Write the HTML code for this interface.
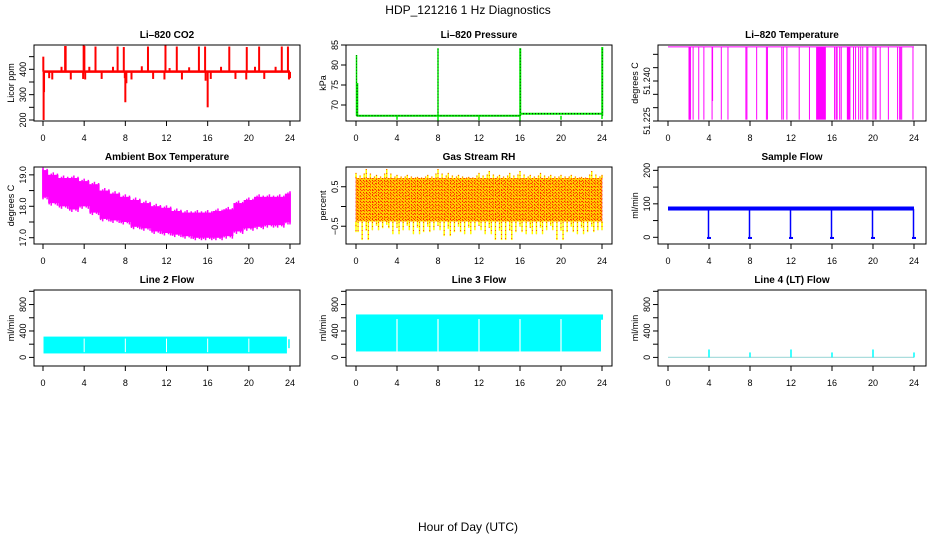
<!DOCTYPE html>
<html><head><meta charset="utf-8"><style>
html,body{margin:0;padding:0;background:#fff;}
svg{display:block;font-family:"Liberation Sans",sans-serif;}
</style></head><body>
<svg id="chart" width="936" height="540" viewBox="0 0 936 540" xmlns="http://www.w3.org/2000/svg">
<defs>
<pattern id="rhpat" width="3" height="3" patternUnits="userSpaceOnUse"><rect width="3" height="3" fill="#ffcc00"/><rect width="1" height="1" fill="#ff2000"/><rect x="1" y="1" width="1" height="1" fill="#ff6000"/></pattern>
</defs>
<text x="468" y="14" font-size="12" text-anchor="middle">HDP_121216  1 Hz Diagnostics</text>
<text x="468" y="531" font-size="12" text-anchor="middle">Hour of Day (UTC)</text>
</svg>
<script>
// ---------- data ----------
const hourTicks = [0,4,8,12,16,20,24];
// CO2
const co2BandHours = [0.05, 24];
const co2BandLo = [386, 386];
const co2BandHi = [396, 396];
const co2SpikeHours = [0.03,2.15,2.2,3.95,4.02,5.1,7.25,7.85,10.2,11.9,13.0,15.15,15.75,18.1,19.8,21.0,23.2,23.8,1.8,4.5,6.8,9.6,12.3,14.2,17.3,20.6,22.6];
const co2SpikeVals  = [450,492,492,495,492,490,490,488,490,495,490,490,490,490,488,490,490,490,410,410,410,412,405,408,410,410,410];
const co2DipHours = [0.06,0.1,0.6,0.9,2.7,3.9,4.1,5.7,7.95,8.0,8.1,8.6,10.7,11.8,13.5,15.8,16.0,16.3,18.7,19.75,21.5,23.9,24.0];
const co2DipVals  = [200,310,365,360,360,362,360,362,365,270,345,360,362,360,360,355,250,362,362,360,362,360,365];
// Pressure
const presBaseStart = [0.05, 16.0];
const presBaseEnd = [16.0, 24.0];
const presBaseVal = [67.3, 67.8];
const presSpikeHours = [0.05,0.15,8.0,16.0,16.05,24.0,24.05];
const presSpikeVals = [82.5,75.5,84.2,84.2,84.2,84.5,84.5];
const presDipHours = [4.0,8.0,12.0,16.0,20.0,24.0];
const presDipVals = [66.3,66.0,66.2,66.0,66.3,66.5];
// Li-820 temperature
const ltTopVal = 51.2528;
const ltDropHours = [2.05,2.1,2.2,2.45,3.0,3.5,4.3,4.35,5.2,5.85,7.6,7.7,8.65,9.6,9.7,11.1,11.25,11.6,12.8,13.8,16.25,16.4,16.5,16.75,16.9,18.1,18.3,18.6,18.8,19.0,19.4,19.5,20.0,20.2,20.3,20.7,21.5,22.4,22.6,22.7,22.8,23.9];
const ltDropVals = [51.2255,51.2255,51.2255,51.2255,51.2255,51.2255,51.2255,51.2325,51.2255,51.2255,51.2255,51.2255,51.2255,51.2255,51.2255,51.2255,51.2255,51.2255,51.2255,51.2255,51.2255,51.2255,51.2255,51.2255,51.2255,51.2255,51.2255,51.2255,51.2255,51.2255,51.2255,51.2255,51.2255,51.2255,51.2255,51.2255,51.2255,51.2255,51.2255,51.2255,51.2255,51.2255];
const ltBlockStart = [14.45, 17.45];
const ltBlockEnd = [15.4, 17.8];
// Ambient box temperature (hourly envelope)
const ambHours = [0,1,2,3,4,5,6,7,8,9,10,11,12,13,14,15,16,17,18,19,20,21,22,23,24];
const ambHi = [19.15,19.0,18.9,18.9,18.8,18.7,18.5,18.4,18.3,18.2,18.1,18.0,17.95,17.85,17.8,17.8,17.8,17.85,17.9,18.1,18.2,18.3,18.3,18.3,18.4];
const ambLo = [18.3,18.1,18.0,17.9,18.0,17.8,17.6,17.55,17.5,17.35,17.3,17.2,17.15,17.1,17.05,17.0,17.0,17.0,17.05,17.2,17.3,17.35,17.4,17.4,17.5];
// Gas stream RH
const rhHours = [0,1,2,3,4,5,6,7,8,9,10,11,12,13,14,15,16,17,18,19,20,21,22,23,24];
const rhHi = [0.85,0.95,0.8,0.95,0.8,0.8,0.75,0.8,0.95,0.85,0.8,0.75,0.85,0.9,0.8,0.85,0.9,0.8,0.85,0.8,0.8,0.8,0.75,0.9,0.8];
const rhLo = [-0.65,-0.85,-0.6,-0.55,-0.7,-0.6,-0.7,-0.65,-0.6,-0.75,-0.65,-0.7,-0.6,-0.7,-0.85,-0.85,-0.65,-0.7,-0.7,-0.6,-0.85,-0.65,-0.7,-0.65,-0.6];
const rhCoreHi = 0.72;
const rhCoreLo = -0.38;
// Sample flow
const sfBandLo = 80, sfBandHi = 92;
const sfDipHours = [4.0,8.0,12.0,16.0,20.0,24.0];
const sfDipVals = [-5,-5,-5,-5,-5,-5];
// Line flows
const l2Lo = 60, l2Hi = 315;
const l3Lo = 90, l3Hi = 650;
const flowGapHours = [4,8,12,16,20];
const l4Base = 0;
const l4SpikeHours = [4.0,8.0,12.0,16.0,20.0,24.0];
const l4SpikeVals = [120,75,120,75,120,75];

// ---------- layout ----------
const svg = document.getElementById('chart');
const NS = 'http://www.w3.org/2000/svg';
const cols = [{x0:34,x1:300,h0:43,h24:290},{x0:346,x1:612,h0:356,h24:602},{x0:658,x1:926,h0:668,h24:914}];
const rows = [{y0:45,y1:121},{y0:167,y1:244},{y0:290,y1:366}];
function el(tag, attrs, parent){ const e=document.createElementNS(NS,tag); for(const k in attrs) e.setAttribute(k,attrs[k]); (parent||svg).appendChild(e); return e; }

function panel(ci, ri, name, title, ylab, yMin, yMax, ticks, labels){
  const c=cols[ci], r=rows[ri];
  const g=el('g',{});
  
  
  const X = h => c.h0 + (h/24)*(c.h24-c.h0);
  const Y = v => r.y1 - (v-yMin)/(yMax-yMin)*(r.y1-r.y0);
  const t=el('text',{x:(c.x0+c.x1)/2,y:r.y0-7,'font-size':10,'font-weight':'bold','text-anchor':'middle'},g); t.textContent=title;
  
  
  const xa=el('g',{},g);
  
  
  hourTicks.forEach(h=>{
    el('line',{x1:X(h),x2:X(h),y1:r.y1,y2:r.y1+5,stroke:'#000'},xa);
    const tx=el('text',{x:X(h),y:r.y1+20,'font-size':9,'text-anchor':'middle'},xa); tx.textContent=h;
  });
  const ya=el('g',{},g);
  
  
  const tk=ticks.filter(v=>Y(v)>=r.y0-6 && Y(v)<=r.y1+6);
  el('line',{x1:c.x0,x2:c.x0,y1:Y(tk[0]),y2:Y(tk[tk.length-1]),stroke:'#000'},ya);
  tk.forEach(v=>{ el('line',{x1:c.x0-5,x2:c.x0,y1:Y(v),y2:Y(v),stroke:'#000'},ya); });
  labels.forEach(l=>{
    const tx=el('text',{x:0,y:0,'font-size':9,'text-anchor':'middle',transform:`translate(${c.x0-8},${Y(l.v)}) rotate(-90)`},ya); tx.textContent=l.t;
  });
  const yt=el('text',{x:0,y:0,'font-size':9,'text-anchor':'middle',transform:`translate(${c.x0-20},${(r.y0+r.y1)/2}) rotate(-90)`},ya); yt.textContent=ylab;
  
  
  const data=el('g',{},g);
  
  
  const box=el('rect',{x:c.x0,y:r.y0,width:c.x1-c.x0,height:r.y1-r.y0,fill:'none',stroke:'#000'},g);
  
  
  return {X,Y,g:data,c,r};
}
function seg(p,x1,y1,x2,y2,col,w){ return el('line',{x1,y1,x2,y2,stroke:col,'stroke-width':w||1},p.g); }
function rect(p,xa,xb,ya,yb,fill){ return el('rect',{x:Math.min(xa,xb),y:Math.min(ya,yb),width:Math.abs(xb-xa),height:Math.abs(yb-ya),fill},p.g); }

// 1 CO2
let p=panel(0,0,'co2','Li\u2013820 CO2','Licor ppm',196,496,[200,250,300,350,400,450],[{v:200,t:'200'},{v:300,t:'300'},{v:400,t:'400'}]);
rect(p,p.X(co2BandHours[0]),p.X(co2BandHours[1]),p.Y(co2BandLo[0]),p.Y(co2BandHi[0]),'#ff0000');
co2SpikeHours.forEach((h,i)=>{ const s=seg(p,p.X(h),p.Y(390),p.X(h),p.Y(co2SpikeVals[i]),'#ff0000',2);  });
co2DipHours.forEach((h,i)=>{ const s=seg(p,p.X(h),p.Y(390),p.X(h),p.Y(co2DipVals[i]),'#ff0000',2);  });

// 2 Pressure
p=panel(1,0,'pressure','Li\u2013820 Pressure','kPa',66,85,[70,75,80,85],[{v:70,t:'70'},{v:75,t:'75'},{v:80,t:'80'},{v:85,t:'85'}]);
presBaseStart.forEach((s,i)=>{ seg(p,p.X(s),p.Y(presBaseVal[i]),p.X(presBaseEnd[i]),p.Y(presBaseVal[i]),'#00ee00',2); seg(p,p.X(s),p.Y(presBaseVal[i]),p.X(presBaseEnd[i]),p.Y(presBaseVal[i]),'#000',1).setAttribute('stroke-dasharray','1 2'); });
presSpikeHours.forEach((h,i)=>{ seg(p,p.X(h),p.Y(67.3),p.X(h),p.Y(presSpikeVals[i]),'#00ee00',1.5); seg(p,p.X(h),p.Y(67.3),p.X(h),p.Y(presSpikeVals[i]),'#000',0.6).setAttribute('stroke-dasharray','1 2'); });
presDipHours.forEach((h,i)=>{ seg(p,p.X(h),p.Y(67.3),p.X(h),p.Y(presDipVals[i]),'#00ee00',1.5); });

// 3 Li-820 Temperature
p=panel(2,0,'li820-temp','Li\u2013820 Temperature','degrees C',51.225,51.2535,[51.225,51.230,51.235,51.240,51.245,51.250],[{v:51.225,t:'51.225'},{v:51.240,t:'51.240'}]);
seg(p,p.X(0),p.Y(ltTopVal),p.X(24),p.Y(ltTopVal),'#ff00ff',1);
ltDropHours.forEach((h,i)=>{ seg(p,p.X(h),p.Y(ltTopVal),p.X(h),p.Y(ltDropVals[i]),'#ff00ff',1); });
ltBlockStart.forEach((s,i)=>{ rect(p,p.X(s),p.X(ltBlockEnd[i]),p.Y(ltTopVal),p.Y(51.2255),'#ff00ff'); });

// 4 Ambient
p=panel(0,1,'ambient-temp','Ambient Box Temperature','degrees C',16.8,19.25,[17.0,17.5,18.0,18.5,19.0],[{v:17.0,t:'17.0'},{v:18.0,t:'18.0'},{v:19.0,t:'19.0'}]);
(function(){ let top='',bot=''; ambHours.forEach((h,i)=>{ const x0=p.X(Math.max(0,h-0.5)), x1=p.X(Math.min(24,h+0.5)); top+=`${x0},${p.Y(ambHi[i])} ${x1},${p.Y(ambHi[i])} `; bot=`${x1},${p.Y(ambLo[i])} ${x0},${p.Y(ambLo[i])} `+bot; }); el('polygon',{points:top+bot,fill:'#ff00ff'},p.g); })();
ambHours.forEach((h,i)=>{ for(let k=-2;k<=2;k++){ const x=p.X(Math.min(24,Math.max(0,h+k*0.2))); seg(p,x,p.Y(ambHi[i]+0.04*((k+5)%3)),x,p.Y(ambLo[i]-0.04*((k+6)%3)),'#ff00ff',1.5);} });

// 5 RH
p=panel(1,1,'gas-rh','Gas Stream RH','percent',-0.95,1.0,[-0.5,0,0.5],[{v:-0.5,t:'\u22120.5'},{v:0.5,t:'0.5'}]);
rect(p,p.X(0),p.X(24),p.Y(rhCoreHi),p.Y(rhCoreLo),'url(#rhpat)');
rhHours.forEach((h,i)=>{ for(let k=-2;k<=2;k++){ const x=p.X(Math.min(24,Math.max(0,h+k*0.2))); const hi=rhCoreHi+(rhHi[i]-rhCoreHi)*((k+5)%3)/2, lo=rhCoreLo+(rhLo[i]-rhCoreLo)*((k+4)%3)/2; seg(p,x,p.Y(rhCoreHi),x,p.Y(hi),'#ffff00',1.5); seg(p,x,p.Y(rhCoreLo),x,p.Y(lo),'#ffff00',1.5); el('line',{x1:x,x2:x,y1:p.Y(hi),y2:p.Y(lo),stroke:'#ff2000','stroke-width':0.8,'stroke-dasharray':'1 3'},p.g);} });

// 6 Sample flow
p=panel(2,1,'sample-flow','Sample Flow','ml/min',-20,210,[0,50,100,150,200],[{v:0,t:'0'},{v:100,t:'100'},{v:200,t:'200'}]);
rect(p,p.X(0),p.X(24),p.Y(sfBandLo),p.Y(sfBandHi),'#0000ff');
sfDipHours.forEach((h,i)=>{ seg(p,p.X(h)-0.5,p.Y(85),p.X(h)-0.5,p.Y(sfDipVals[i]),'#0000ff',1.5); rect(p,p.X(h)-2,p.X(h)+2,p.Y(sfDipVals[i]),p.Y(sfDipVals[i]+6),'#0000ff'); });

// 7 Line 2
p=panel(0,2,'line2-flow','Line 2 Flow','ml/min',-130,1020,[0,200,400,600,800,1000],[{v:0,t:'0'},{v:400,t:'400'},{v:800,t:'800'}]);
rect(p,p.X(0.05),p.X(23.7),p.Y(l2Lo),p.Y(l2Hi),'#00ffff');
seg(p,p.X(23.9),p.Y(l2Lo+80),p.X(23.9),p.Y(l2Hi-40),'#00ffff',1.5);
flowGapHours.forEach(h=>{ seg(p,p.X(h),p.Y(l2Lo+20),p.X(h),p.Y(l2Hi-30),'#ffffff',1); });

// 8 Line 3
p=panel(1,2,'line3-flow','Line 3 Flow','ml/min',-130,1020,[0,200,400,600,800,1000],[{v:0,t:'0'},{v:400,t:'400'},{v:800,t:'800'}]);
rect(p,p.X(0),p.X(23.9),p.Y(l3Lo),p.Y(l3Hi),'#00ffff');
rect(p,p.X(23.9),p.X(24.1),p.Y(l3Hi-80),p.Y(l3Hi),'#00ffff');
flowGapHours.forEach(h=>{ seg(p,p.X(h),p.Y(l3Lo),p.X(h),p.Y(l3Hi-70),'#ffffff',1.2); });

// 9 Line 4
p=panel(2,2,'line4-flow','Line 4 (LT) Flow','ml/min',-130,1020,[0,200,400,600,800,1000],[{v:0,t:'0'},{v:400,t:'400'},{v:800,t:'800'}]);
seg(p,p.X(0),p.Y(l4Base),p.X(24),p.Y(l4Base),'#aadddd',1.2);
l4SpikeHours.forEach((h,i)=>{ seg(p,p.X(h),p.Y(l4Base),p.X(h),p.Y(l4SpikeVals[i]),'#00ffff',1.5); });
</script>
</body></html>
